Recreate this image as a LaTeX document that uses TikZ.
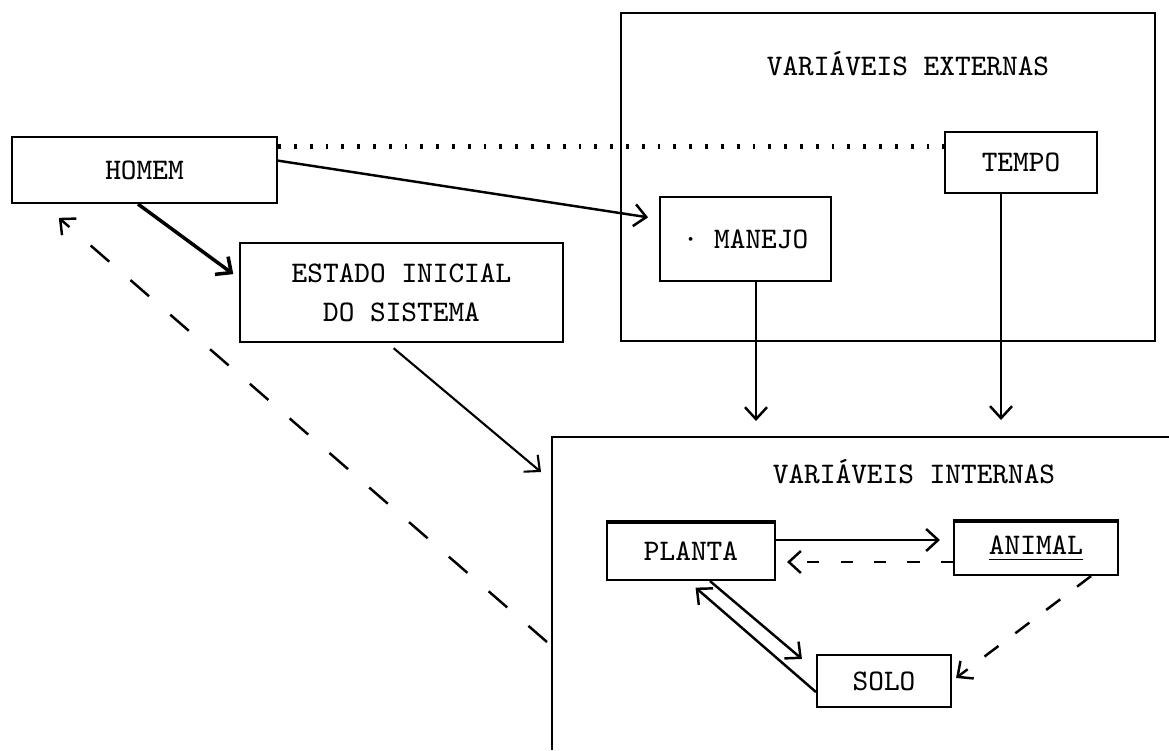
\documentclass[tikz,border=0pt]{standalone}
\usetikzlibrary{arrows.meta}

\begin{document}
\begin{tikzpicture}[x=0.1mm, y=-0.1mm,
    font=\ttfamily\fontsize{8.5}{11}\selectfont,
    box/.style={draw, line width=0.6pt, inner sep=0pt},
    moldura/.style={draw, line width=0.8pt, inner sep=0pt},
    arr/.style={-{Straight Barb[length=1.2mm, width=2.2mm]}, line width=0.7pt},
    pontos/.style={line width=1.4pt, dash pattern=on 0.8pt off 3.7pt},
    volta/.style={dash pattern=on 7pt off 8pt},
    tracos/.style={dash pattern=on 3.5pt off 6pt},
    tracos2/.style={dash pattern=on 5pt off 6pt}]
    \useasboundingbox (0,0) rectangle (1169,750);

    % Variaveis externas
    \node[moldura, minimum width=53.4mm, minimum height=32.8mm] (externas) at (888,177) {};
    \node (tituloext) at (908,64) {VARIÁVEIS EXTERNAS};
    \node[box, minimum width=15.2mm, minimum height=6.1mm] (tempo) at (1021,162.5) {TEMPO};
    \node[box, minimum width=17.1mm, minimum height=8.4mm] (manejo) at (745.5,239) {· MANEJO};

    % Homem e estado inicial
    \node[box, minimum width=26.5mm, minimum height=6.6mm] (homem) at (144.5,170) {HOMEM};
    \node[box, minimum width=32.3mm, minimum height=9.9mm, align=center] (estado) at (401.5,292.5)
        {ESTADO INICIAL\\DO SISTEMA};

    % Variaveis internas (aberto a direita e embaixo)
    \coordinate (intnw) at (552,437);
    \draw[line width=0.8pt] (intnw |- 0,750) -- (intnw) -- (intnw -| 1169,0);
    \node (tituloint) at (914,472) {VARIÁVEIS INTERNAS};
    \node[box, minimum width=16.8mm, minimum height=5.7mm] (planta) at (691,551.5) {PLANTA};
    \node[box, minimum width=16.4mm, minimum height=5.3mm] (animal) at (1036,548.5) {\underline{ANIMAL}};
    \node[box, minimum width=13.4mm, minimum height=5.2mm] (solo) at (884,681) {SOLO};
    \draw[line width=1.2pt] (planta.north west) -- (planta.north east);
    \draw[line width=1.2pt] (animal.north west) -- (animal.north east);

    % Ligacoes de fora
    \draw[pontos] (homem.10) -- (homem.10 -| tempo.west);
    \draw[arr, shorten >=1.1mm] (homem.4) -- (manejo.167);
    \draw[arr, line width=1pt, shorten >=0.7mm] ([xshift=-0.65mm]homem.south) -- (estado.175);
    \coordinate (mj) at ([xshift=1.05mm]manejo.south);
    \coordinate (tp) at ([xshift=-2mm]tempo.south);
    \draw[arr, shorten >=1.6mm] (mj) -- (mj |- intnw);
    \draw[arr, shorten >=1.7mm] (tp) -- (tp |- intnw);
    \coordinate (ein) at (541,472);
    \draw[arr, line width=0.6pt, shorten <=0.8mm] ([xshift=-1.4mm]estado.south) -- (ein);
    \coordinate (dvolta) at (547,642);
    \draw[arr, volta, shorten >=2.1mm] (dvolta) -- ([xshift=3.2mm]homem.south west);

    % Ligacoes internas
    \coordinate (pa) at ([yshift=1.15mm]planta.east);
    \coordinate (ap) at ([yshift=-1.35mm]animal.west);
    \draw[arr, shorten >=1.3mm] (pa) -- (pa -| animal.west);
    \draw[arr, tracos, shorten >=1.1mm] (ap) -- (ap -| planta.east);
    \draw[arr] ([xshift=1.9mm]planta.south) -- ([xshift=-1.4mm,yshift=-0.5mm]solo.north west);
    \draw[arr, shorten >=1mm] ([yshift=-1.1mm]solo.west) -- ([xshift=-0.3mm]planta.south);
    \draw[arr, tracos2, shorten >=0.5mm] ([xshift=-2.8mm]animal.south east) -- (solo.east);
\end{tikzpicture}
\end{document}
